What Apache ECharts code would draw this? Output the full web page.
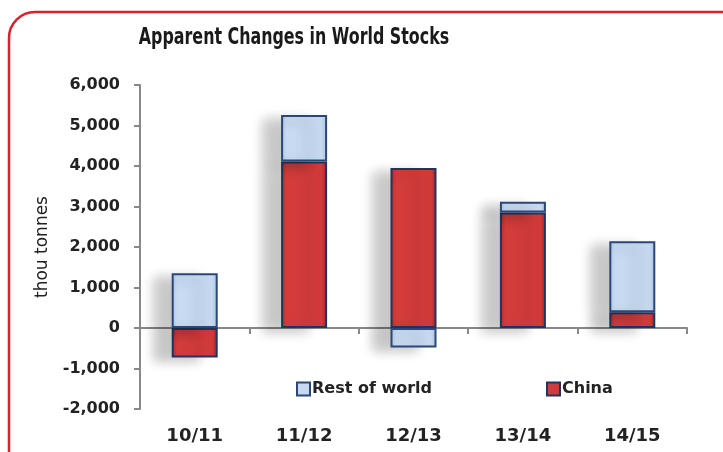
<!DOCTYPE html>
<html>
<head>
<meta charset="utf-8">
<script src="https://cdn.jsdelivr.net/npm/echarts@6/dist/echarts.min.js"></script>
<style>
  html, body { margin: 0; padding: 0; background: #fff; }
  #chart { width: 723px; height: 452px; }
</style>
</head>
<body>
<div id="chart"></div>
<script>
var seasons = ['10/11', '11/12', '12/13', '13/14', '14/15'];
var china = [-730, 4110, 3950, 2850, 390];
var restOfWorld = [1350, 1150, -480, 270, 1750];
var yTicks = [-2000, -1000, 0, 1000, 2000, 3000, 4000, 5000, 6000];

var chart = echarts.init(document.getElementById('chart'));

function fmt(v) {
  return v.toString().replace(/\B(?=(\d{3})+(?!\d))/g, ',');
}

var redFill = new echarts.graphic.LinearGradient(0, 0, 1, 0, [
  {offset: 0, color: '#b52a2b'},
  {offset: 0.12, color: '#d43c3c'},
  {offset: 0.88, color: '#d23a3a'},
  {offset: 1, color: '#a82526'}
]);
var blueFill = new echarts.graphic.LinearGradient(0, 0, 1, 0, [
  {offset: 0, color: '#aec6e4'},
  {offset: 0.12, color: '#c7daf0'},
  {offset: 0.88, color: '#c5d8ef'},
  {offset: 1, color: '#a9c1df'}
]);

var option = {
  animation: false,
  textStyle: {fontFamily: 'DejaVu Sans, sans-serif'},
  graphic: [{
    type: 'rect',
    shape: {x: 9, y: 12, width: 740, height: 470, r: 26},
    style: {fill: 'none', stroke: '#d9222c', lineWidth: 2.5},
    z: -1
  }, {
    // condensed heavy title
    type: 'text',
    x: 294,
    y: 38,
    scaleX: 0.69,
    style: {
      text: 'Apparent Changes in World Stocks',
      font: 'bold 23px "DejaVu Sans", sans-serif',
      fill: '#1a1a1a',
      textAlign: 'center',
      textVerticalAlign: 'middle'
    }
  }],
  legend: [{
    data: ['Rest of world'],
    left: 291,
    top: 376,
    icon: 'rect',
    itemWidth: 13,
    itemHeight: 13,
    itemGap: 4,
    textStyle: {fontSize: 16, fontWeight: 'bold', color: '#222', padding: [0, 0, 0, -3]}
  }, {
    data: ['China'],
    left: 541,
    top: 376,
    icon: 'rect',
    itemWidth: 13,
    itemHeight: 13,
    textStyle: {fontSize: 16, fontWeight: 'bold', color: '#222', padding: [0, 0, 0, -3]}
  }],
  grid: {left: 140, right: 36, top: 85, bottom: 43},
  xAxis: [{
    type: 'category',
    data: seasons,
    axisLine: {onZero: true, lineStyle: {color: '#888', width: 2}},
    axisTick: {show: true, length: 6, lineStyle: {color: '#888', width: 2}},
    axisLabel: {show: false}
  }, {
    type: 'category',
    data: seasons,
    position: 'bottom',
    axisLine: {show: false, onZero: false},
    axisTick: {show: false},
    axisLabel: {margin: 18, fontSize: 18, fontWeight: 'bold', color: '#222'}
  }],
  yAxis: {
    type: 'value',
    min: -2000,
    max: 6000,
    interval: 1000,
    name: 'thou tonnes',
    nameLocation: 'middle',
    nameGap: 89,
    nameTextStyle: {fontSize: 17, color: '#222'},
    axisLine: {show: true, lineStyle: {color: '#888', width: 2}},
    axisTick: {show: true, length: 6, lineStyle: {color: '#888', width: 2}},
    splitLine: {show: false},
    axisLabel: {
      margin: 20,
      fontSize: 16,
      fontWeight: 'bold',
      color: '#222',
      formatter: function (v) { return yTicks.indexOf(v) >= 0 ? fmt(v) : ''; }
    }
  },
  series: [{
    name: 'China',
    type: 'bar',
    stack: 'total',
    barWidth: 46,
    data: china,
    itemStyle: {
      color: redFill,
      borderColor: '#1f3560',
      borderWidth: 2,
      shadowColor: 'rgba(0,0,0,0.22)',
      shadowBlur: 12,
      shadowOffsetX: -18,
      shadowOffsetY: 4
    }
  }, {
    name: 'Rest of world',
    type: 'bar',
    stack: 'total',
    barWidth: 46,
    data: restOfWorld,
    itemStyle: {
      color: blueFill,
      borderColor: '#2a4777',
      borderWidth: 2,
      shadowColor: 'rgba(0,0,0,0.22)',
      shadowBlur: 12,
      shadowOffsetX: -18,
      shadowOffsetY: 4
    }
  }]
};

chart.setOption(option);
</script>
</body>
</html>
